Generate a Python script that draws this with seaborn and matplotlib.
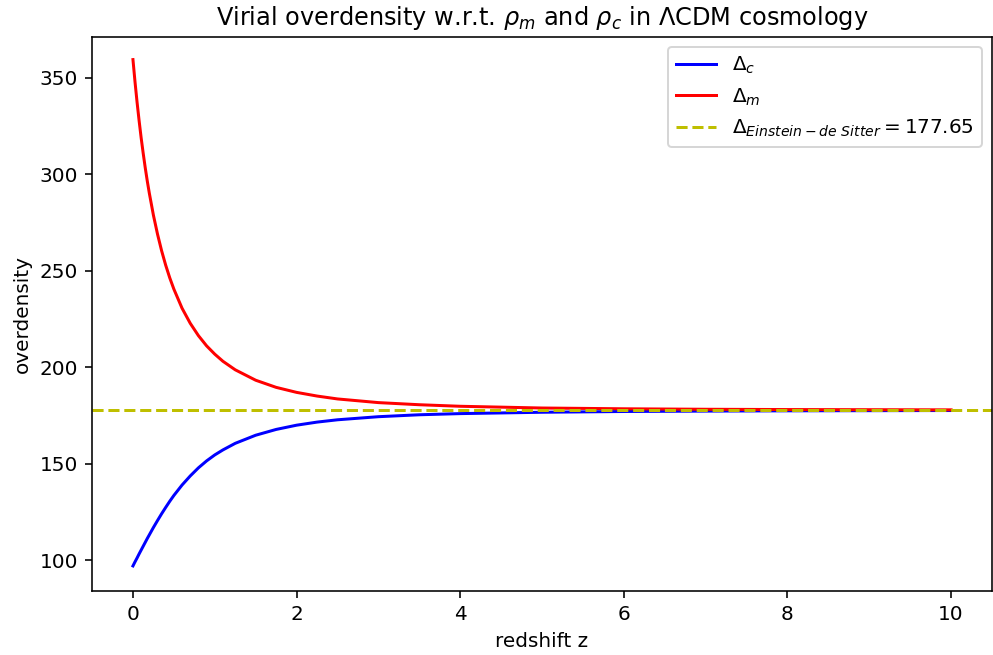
import matplotlib
matplotlib.use("Agg")
import matplotlib.pyplot as plt
import seaborn as sns
import pandas as pd

# redshift sample points
z = [0.0, 0.025, 0.05, 0.075, 0.1, 0.125, 0.15, 0.175, 0.2, 0.25, 0.3, 0.35, 0.4,
     0.45, 0.5, 0.6, 0.7, 0.8, 0.9, 1.0, 1.1, 1.25, 1.5, 1.75, 2.0, 2.25, 2.5,
     3.0, 3.5, 4.0, 5.0, 6.0, 7.0, 8.0, 10.0]
# overdensity w.r.t. critical density
delta_c = [97.0, 99.1, 101.1, 103.2, 105.2, 107.2, 109.2, 111.2, 113.1, 116.9,
           120.5, 124.0, 127.3, 130.5, 133.5, 138.9, 143.6, 147.8, 151.4, 154.5,
           157.1, 160.5, 164.7, 167.7, 169.9, 171.5, 172.7, 174.3, 175.3, 175.9,
           176.6, 177.0, 177.2, 177.35, 177.5]
# overdensity w.r.t. mean matter density
delta_m = [359.3, 347.8, 337.3, 327.7, 318.8, 310.8, 303.3, 296.4, 290.1, 278.7,
           268.9, 260.3, 252.8, 246.2, 240.4, 230.5, 222.7, 216.3, 211.0, 206.7,
           203.0, 198.6, 193.2, 189.5, 186.9, 185.0, 183.5, 181.6, 180.5, 179.7,
           178.8, 178.4, 178.15, 178.0, 177.85]
eds_value = 177.65

df = pd.DataFrame({"z": z, "dc": delta_c, "dm": delta_m})

fig = plt.figure(figsize=(993 / 144, 655 / 144), dpi=144)
ax = fig.add_axes([0.0927, 0.0977, 0.9063, 0.8458])

sns.lineplot(data=df, x="z", y="dc", color="b", ax=ax, label=r"$\Delta_c$", linewidth=1.5)
sns.lineplot(data=df, x="z", y="dm", color="r", ax=ax, label=r"$\Delta_m$", linewidth=1.5)
ax.axhline(eds_value, color="y", linestyle="--", linewidth=1.5,
           label=r"$\Delta_{Einstein-de\ Sitter} = 177.65$")

ax.set_xlim(-0.5, 10.5)
ax.set_ylim(84, 371)
ax.set_xticks([0, 2, 4, 6, 8, 10])
ax.set_yticks([100, 150, 200, 250, 300, 350])
ax.set_xlabel("redshift z")
ax.set_ylabel("overdensity")
ax.set_title(r"Virial overdensity w.r.t. $\rho_m$ and $\rho_c$ in $\Lambda$CDM cosmology")
ax.legend(loc="upper right")

fig.savefig("out.png", dpi=144)
